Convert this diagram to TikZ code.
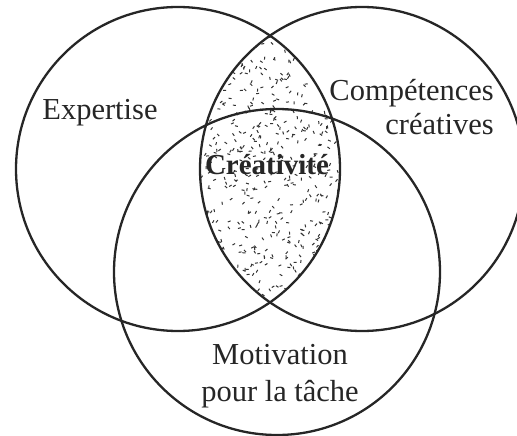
\documentclass[tikz,border=0pt]{standalone}
\usepackage{fontspec}
\setmainfont{Liberation Serif}
\begin{document}
\begin{tikzpicture}[x=1pt,y=-1pt,
  ring/.style={draw=black!85,line width=2.3pt},
  lbl/.style={font=\fontsize{30.5}{34}\selectfont,text=black!85,inner sep=0pt},
  stip/.style={line width=1pt,black!80}]
\useasboundingbox (0,0) rectangle (517,436);
\coordinate (cL) at (178,169);
\coordinate (cR) at (362,169);
\coordinate (cB) at (277,272);
% stippled lens
\begin{scope}
  \clip (cL) circle[radius=162pt];
  \clip (cR) circle[radius=162pt];
  \pgfmathsetseed{42}
  \foreach \i in {1,...,650}{
    \pgfmathsetmacro\px{195+150*rnd}
    \pgfmathsetmacro\py{35+270*rnd}
    \pgfmathsetmacro\pa{360*rnd}
    \draw[stip] (\px,\py) -- ++(\pa:3pt);
  }
\end{scope}
\draw[ring] (cL) circle[radius=162pt];
\draw[ring] (cR) circle[radius=162pt];
\draw[ring] (cB) circle[radius=163pt];
\node[lbl] (exp) at (100,113) {Expertise};
\node[lbl,align=right,anchor=east] (comp) at (494,107) {Compétences\\créatives};
\node[lbl,font=\fontsize{29}{34}\selectfont\bfseries] (crea) at (267,165) {Créativité};
\node[lbl,align=center,font=\fontsize{30.5}{37}\selectfont] (mot) at (280,376) {Motivation\\pour la tâche};
\end{tikzpicture}
\end{document}
